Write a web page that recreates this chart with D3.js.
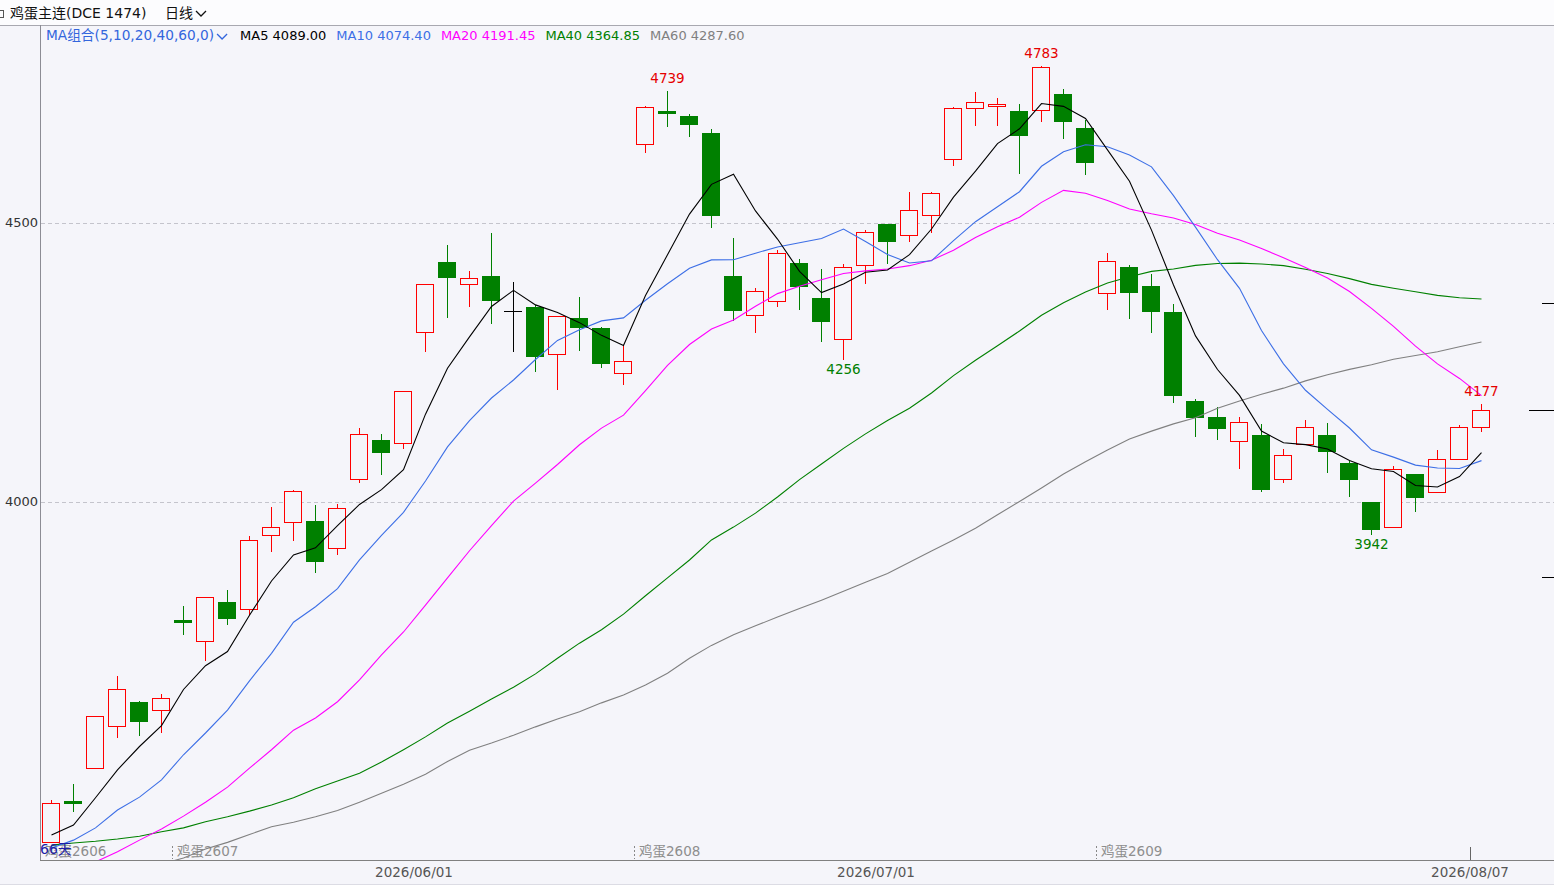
<!DOCTYPE html>
<html>
<head>
<meta charset="utf-8">
<style>
  html, body { margin: 0; padding: 0; background: #f5f5fa; overflow: hidden; }
</style>
<script src="https://cdn.jsdelivr.net/npm/d3@7"></script>
</head>
<body>
<svg id="chart"></svg>
<script>
// trading days shown (66天)
const dates = [
  "2026/05/07","2026/05/08","2026/05/11","2026/05/12","2026/05/13","2026/05/14","2026/05/15","2026/05/18","2026/05/19","2026/05/20",
  "2026/05/21","2026/05/22","2026/05/25","2026/05/26","2026/05/27","2026/05/28","2026/05/29","2026/06/01","2026/06/02","2026/06/03",
  "2026/06/04","2026/06/05","2026/06/08","2026/06/09","2026/06/10","2026/06/11","2026/06/12","2026/06/15","2026/06/16","2026/06/17",
  "2026/06/18","2026/06/22","2026/06/23","2026/06/24","2026/06/25","2026/06/26","2026/06/29","2026/06/30","2026/07/01","2026/07/02",
  "2026/07/03","2026/07/06","2026/07/07","2026/07/08","2026/07/09","2026/07/10","2026/07/13","2026/07/14","2026/07/15","2026/07/16",
  "2026/07/17","2026/07/20","2026/07/21","2026/07/22","2026/07/23","2026/07/24","2026/07/27","2026/07/28","2026/07/29","2026/07/30",
  "2026/07/31","2026/08/03","2026/08/04","2026/08/05","2026/08/06","2026/08/07"
];

const opens  = [3391,3465,3523,3599,3642,3627,3788,3751,3821,3808,3940,3965,3966,3917,4041,4111,4105,4304,4430,4390,
                4405,4342,4349,4265,4330,4312,4232,4641,4700,4692,4661,4405,4335,4360,4429,4366,4292,4424,4499,4478,
                4514,4614,4706,4709,4701,4702,4731,4670,4374,4421,4387,4340,4181,4152,4110,4120,4041,4104,4120,4070,
                4000,3955,4050,4017,4077,4134];
const highs  = [3468,3496,3618,3690,3645,3657,3815,3831,3844,3941,3993,4023,3996,3999,4134,4124,4201,4391,4462,4416,
                4483,4396,4355,4335,4369,4315,4281,4711,4739,4697,4671,4475,4385,4453,4437,4419,4429,4489,4500,4557,
                4557,4710,4737,4726,4715,4783,4742,4686,4448,4426,4410,4356,4186,4172,4154,4141,4096,4148,4143,4075,
                4000,4066,4050,4095,4140,4177];
const lows   = [3391,3446,3523,3578,3582,3587,3763,3717,3781,3800,3913,3931,3875,3906,4035,4050,4097,4271,4332,4352,
                4321,4271,4235,4203,4272,4242,4212,4628,4673,4655,4492,4327,4305,4352,4345,4289,4256,4393,4428,4468,
                4484,4604,4676,4676,4590,4683,4653,4588,4346,4330,4305,4180,4119,4112,4061,4020,4035,4104,4054,4011,
                3942,3955,3983,4017,4077,4128];
const closes = [3461,3462,3616,3664,3606,3648,3786,3829,3791,3931,3955,4019,3893,3990,4121,4088,4198,4390,4402,4401,
                4361,4342,4260,4333,4311,4247,4252,4707,4698,4676,4513,4343,4378,4446,4386,4323,4421,4483,4466,4523,
                4553,4706,4716,4713,4656,4779,4681,4608,4431,4375,4341,4190,4151,4130,4143,4022,4085,4134,4090,4040,
                3949,4060,4008,4077,4134,4164];

const ma5  = [3403,3421,3470,3520,3561.8,3599.2,3664,3706.6,3732,3797,3858.4,3905,3917.8,3957.6,3995.6,4022.2,4058,4157.4,4239.8,4295.8,
              4350.4,4379.2,4353.2,4339.4,4321.4,4298.6,4280.6,4370,4443,4516,4569.2,4587.4,4521.6,4471.2,4413.2,4375.2,4390.8,4411.8,4415.8,4443.2,
              4489.2,4546.2,4592.8,4642.2,4668.8,4714,4709,4687.4,4631,4574.8,4487.2,4389,4297.6,4237.4,4191,4127.2,4106.2,4102.8,4094.8,4074.2,
              4059.6,4054.6,4029.4,4026.8,4045.6,4088.6];
const ma10 = [3380,3394,3416,3448,3471,3502,3547,3586,3627,3679.4,3728.8,3784.5,3812.2,3844.8,3896.3,3940.3,3981.5,4037.6,4098.7,4145.7,
              4186.3,4218.6,4255.3,4289.6,4308.6,4324.5,4329.9,4361.6,4391.2,4418.7,4433.9,4434.0,4445.8,4457.1,4464.6,4472.2,4489.1,4466.7,4443.5,4428.2,
              4432.2,4468.5,4502.3,4529.0,4556.0,4601.6,4627.6,4640.1,4636.6,4621.8,4600.6,4549.0,4492.5,4434.2,4382.9,4307.2,4247.6,4200.2,4166.1,4132.6,
              4093.4,4080.4,4066.1,4060.8,4059.9,4074.1];
const ma20 = [3314,3333,3355,3373,3394,3414,3437,3462,3489,3523,3556,3591,3613,3642,3681,3726,3767,3815,3864,3912.6,
              3957.6,4001.6,4033.8,4067.2,4102.5,4132.4,4155.7,4199.6,4245.0,4282.2,4310.1,4326.3,4350.6,4373.4,4386.6,4398.4,4409.5,4414.2,4417.4,4423.5,
              4433.1,4451.3,4474.1,4493.1,4510.3,4536.9,4558.4,4553.4,4540.1,4525.0,4516.4,4508.8,4497.4,4481.6,4469.5,4454.4,4437.6,4420.2,4401.4,4377.2,
              4347.0,4314.7,4279.3,4247.5,4221.4,4190.7];
const ma40 = [3385,3389,3392,3396,3401,3409,3416,3427,3436,3446,3457,3470,3486,3500,3514,3534,3556,3579,3604,3625,
              3647,3668,3692,3720,3747,3771,3799,3832,3864,3896,3932,3955,3980,4009,4040,4068,4096,4122,4146,4168.0,
              4195.3,4226.4,4253.9,4280.1,4306.4,4334.7,4357.0,4376.5,4392.5,4403.6,4413.3,4417.5,4424.0,4427.5,4428.0,4426.4,4423.6,4417.2,4409.4,4400.3,
              4390.0,4383.0,4376.7,4370.3,4365.9,4363.8];
const ma60 = [3290,3302,3315,3328,3340,3351,3362,3378,3390,3404,3418,3426,3436,3447,3462,3478,3494,3512,3535,3555,
              3568,3582,3597,3611,3624,3640,3654,3672,3693,3720,3743,3762,3778,3794,3809,3824,3840,3856,3872,3892,
              3912,3932,3953,3977,4001,4025,4050,4072,4093,4113,4127,4140,4151,4168,4181,4193,4204,4217,4228,4237.7,
              4245.9,4255.8,4262.4,4269.3,4278.1,4286.7];

const maNames  = ["MA5", "MA10", "MA20", "MA40", "MA60"];
const maLast   = ["4089.00", "4074.40", "4191.45", "4364.85", "4287.60"];
const maColors = ["#000000", "#3d6fe6", "#ff00ff", "#008000", "#808080"];

const yTicks = [4000, 4500];
const dateTicks = ["2026/06/01", "2026/07/01", "2026/08/07"];
const rollDates = ["2026/05/07", "2026/05/15", "2026/06/15", "2026/07/15"];
const rollNames = ["鸡蛋2606", "鸡蛋2607", "鸡蛋2608", "鸡蛋2609"];
const highMarks = ["2026/06/16", "2026/07/10", "2026/08/07"];
const lowMarks  = ["2026/06/29", "2026/07/31"];
const rightMarks = [4356, 4165, 3866];
const rightMarkLen = [12, 25, 12];

const W = 1554, H = 885;
const FONT = "'DejaVu Sans','Noto Sans CJK SC',sans-serif";
const UP = "#ff0000", DOWN = "#008000", BG = "#f5f5fa";

const svg = d3.select("#chart").attr("width", W).attr("height", H)
    .style("display", "block").style("font-family", FONT);

svg.append("rect").attr("width", W).attr("height", H).attr("fill", BG);
svg.append("rect").attr("width", W).attr("height", 25).attr("fill", "#fcfcfe");
svg.append("line").attr("x1", 0).attr("x2", W).attr("y1", 25.5).attr("y2", 25.5)
    .attr("stroke", "#a8a8b0");

const x = d3.scaleBand().domain(dates).range([40, 40 + 22 * dates.length]);
const y = d3.scaleLinear().domain([3358.4, 4853]).range([860, 26]);
const cx = d => Math.round(x(d) + x.bandwidth() / 2) + 0.5;
const py = v => Math.round(y(v)) + 0.5;

// grid + y labels
svg.selectAll(".grid").data(yTicks).enter().append("line")
    .attr("x1", 41).attr("x2", W)
    .attr("y1", d => py(d)).attr("y2", d => py(d))
    .attr("stroke", "#c4c4cc").attr("stroke-dasharray", "4,3");

svg.selectAll(".ylab").data(yTicks).enter().append("text")
    .attr("x", 5).attr("y", d => y(d) + 1)
    .attr("dominant-baseline", "middle")
    .attr("font-size", 13).attr("fill", "#333")
    .text(d => d);

// frame
svg.append("line").attr("x1", 40.5).attr("x2", 40.5).attr("y1", 25).attr("y2", 861)
    .attr("stroke", "#8c8c94");
svg.append("line").attr("x1", 40).attr("x2", W).attr("y1", 860.5).attr("y2", 860.5)
    .attr("stroke", "#808080");
svg.append("line").attr("x1", 0).attr("x2", W).attr("y1", 884.5).attr("y2", 884.5)
    .attr("stroke", "#dcdce4");

svg.append("clipPath").attr("id", "plotClip").append("rect")
    .attr("x", 41).attr("y", 26).attr("width", W - 41).attr("height", 834);
const plot = svg.append("g").attr("clip-path", "url(#plotClip)");

// contract roll markers
rollDates.forEach((d, i) => {
    const xx = Math.round(x(d)) + 0.5;
    if (i > 0) {
        plot.append("line").attr("x1", xx).attr("x2", xx).attr("y1", 846).attr("y2", 859)
            .attr("stroke", "#888").attr("stroke-dasharray", "2,2");
    }
    plot.append("text").attr("x", x(d) + 5).attr("y", 852)
        .attr("dominant-baseline", "middle")
        .attr("font-size", 13.5).attr("fill", "#8e8e8e")
        .text(rollNames[i]);
});

// candles
const candles = plot.append("g").attr("shape-rendering", "crispEdges");
dates.forEach((d, i) => {
    const o = opens[i], c = closes[i], h = highs[i], l = lows[i];
    const xm = cx(d);
    const left = Math.round(x(d)) + 2;
    if (o === c) {
        candles.append("line").attr("x1", xm).attr("x2", xm).attr("y1", py(h)).attr("y2", py(l))
            .attr("stroke", "#000");
        candles.append("line").attr("x1", left).attr("x2", left + 18).attr("y1", py(o)).attr("y2", py(o))
            .attr("stroke", "#000").attr("stroke-width", 1.5);
    } else if (c > o) {
        candles.append("line").attr("x1", xm).attr("x2", xm).attr("y1", py(h)).attr("y2", py(c))
            .attr("stroke", UP);
        candles.append("line").attr("x1", xm).attr("x2", xm).attr("y1", py(o)).attr("y2", py(l))
            .attr("stroke", UP);
        candles.append("rect").attr("x", left + 0.5).attr("y", py(c))
            .attr("width", 17).attr("height", Math.max(1, py(o) - py(c)))
            .attr("fill", BG).attr("stroke", UP);
    } else {
        candles.append("line").attr("x1", xm).attr("x2", xm).attr("y1", py(h)).attr("y2", py(l))
            .attr("stroke", DOWN);
        const top = Math.round(y(o)), bot = Math.round(y(c));
        candles.append("rect").attr("x", left).attr("y", top)
            .attr("width", 18).attr("height", Math.max(3, bot - top))
            .attr("fill", DOWN);
    }
});

// moving averages
const maSeries = [ma60, ma40, ma20, ma10, ma5];
const maSeriesColors = [maColors[4], maColors[3], maColors[2], maColors[1], maColors[0]];
const line = d3.line().x((v, i) => cx(dates[i])).y(v => y(v));
maSeries.forEach((s, k) => {
    plot.append("path").datum(s)
        .attr("d", line)
        .attr("fill", "none")
        .attr("stroke", maSeriesColors[k])
        .attr("stroke-width", 1.1);
});

// high / low labels
highMarks.forEach(d => {
    const i = dates.indexOf(d);
    svg.append("text").attr("x", cx(d)).attr("y", y(highs[i]) - 11)
        .attr("text-anchor", "middle").attr("dominant-baseline", "middle")
        .attr("font-size", 13.5).attr("fill", "#e60000")
        .text(highs[i]);
});
lowMarks.forEach(d => {
    const i = dates.indexOf(d);
    svg.append("text").attr("x", cx(d)).attr("y", y(lows[i]) + 11)
        .attr("text-anchor", "middle").attr("dominant-baseline", "middle")
        .attr("font-size", 13.5).attr("fill", "#008000")
        .text(lows[i]);
});

// right side marks
rightMarks.forEach((p, i) => {
    svg.append("line").attr("x1", W - rightMarkLen[i]).attr("x2", W)
        .attr("y1", py(p)).attr("y2", py(p))
        .attr("stroke", "#000");
});

// date axis labels
dateTicks.forEach((d, i) => {
    svg.append("text").attr("x", x(d)).attr("y", 873)
        .attr("text-anchor", "middle").attr("dominant-baseline", "middle")
        .attr("font-size", 13.5).attr("fill", "#555")
        .text(d);
    if (i === dateTicks.length - 1) {
        const xx = Math.round(x(d)) + 0.5;
        svg.append("line").attr("x1", xx).attr("x2", xx).attr("y1", 847).attr("y2", 860)
            .attr("stroke", "#666");
    }
});

svg.append("text").attr("x", 40).attr("y", 850)
    .attr("dominant-baseline", "middle")
    .attr("font-size", 14).attr("fill", "#1c1ca8")
    .text(dates.length + "天");

// header
const chevron = (g, x0, y0, color) => {
    g.append("path").attr("d", `M${x0},${y0} L${x0 + 5},${y0 + 5} L${x0 + 10},${y0}`)
        .attr("fill", "none").attr("stroke", color).attr("stroke-width", 1.3);
};
svg.append("rect").attr("x", -2.5).attr("y", 10.5).attr("width", 6).attr("height", 7)
    .attr("fill", "none").attr("stroke", "#555");
svg.append("text").attr("x", 10).attr("y", 14)
    .attr("dominant-baseline", "middle").attr("font-size", 14).attr("fill", "#111")
    .text("鸡蛋主连(DCE 1474)");
const period = svg.append("text").attr("x", 165).attr("y", 14)
    .attr("dominant-baseline", "middle").attr("font-size", 14).attr("fill", "#111")
    .text("日线");
chevron(svg, 165 + period.node().getComputedTextLength() + 3, 11, "#111");

// MA legend
let lx = 46;
const combo = svg.append("text").attr("x", lx).attr("y", 36)
    .attr("dominant-baseline", "middle").attr("font-size", 13.7).attr("fill", "#3366dd")
    .text("MA组合(5,10,20,40,60,0)");
lx += combo.node().getComputedTextLength() + 3;
chevron(svg, lx, 34, "#3366dd");
lx += 23;
maNames.forEach((n, i) => {
    const t = svg.append("text").attr("x", lx).attr("y", 36)
        .attr("dominant-baseline", "middle").attr("font-size", 13)
        .attr("fill", maColors[i])
        .text(n + " " + maLast[i]);
    lx += t.node().getComputedTextLength() + 10;
});
</script>
</body>
</html>
